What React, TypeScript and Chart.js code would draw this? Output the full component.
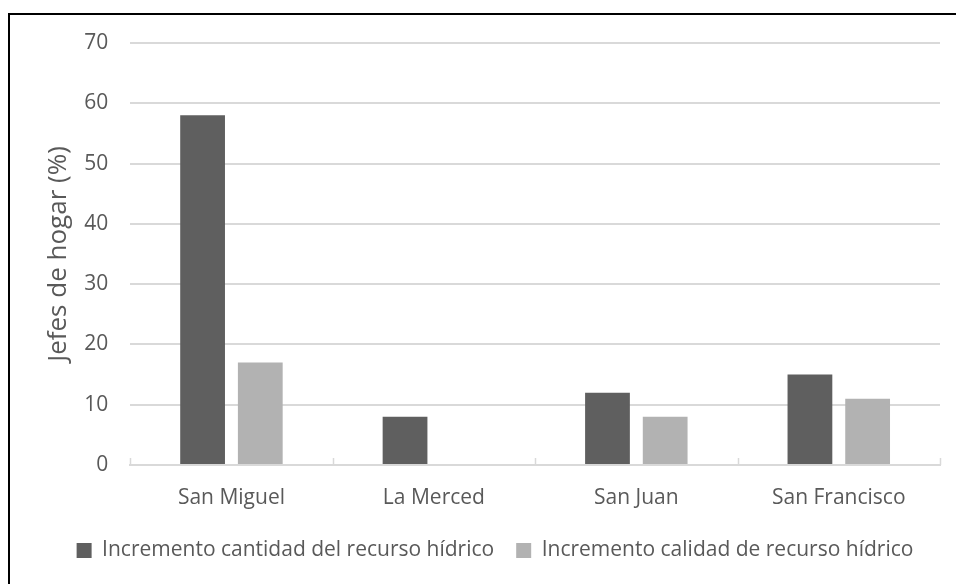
import React, { useEffect, useRef } from "react";
import { Chart, registerables } from "chart.js";
Chart.register(...registerables);

const categories = ["San Miguel", "La Merced", "San Juan", "San Francisco"];
const cantidad = [58, 8, 12, 15];
const calidad = [17, 0, 8, 11];
const seriesNames = ["Incremento cantidad del recurso hídrico", "Incremento calidad de recurso hídrico"];
const yTitle = "Jefes de hogar (%)";
const yMax = 70;
const yStep = 10;

const categoryTicks = {
  id: "categoryTicks",
  afterDatasetsDraw(chart: any) {
    const x = chart.scales.x;
    const ctx = chart.ctx;
    const n = chart.data.labels.length;
    const w = (x.right - x.left) / n;
    ctx.save();
    ctx.strokeStyle = "#d9d9d9";
    ctx.lineWidth = 1.5;
    for (let i = 0; i <= n; i++) {
      const px = Math.round(x.left + i * w) + 0.5;
      ctx.beginPath();
      ctx.moveTo(px, x.top);
      ctx.lineTo(px, x.top - 7);
      ctx.stroke();
    }
    ctx.restore();
  },
};

export default function App() {
  const ref = useRef<HTMLCanvasElement>(null);
  useEffect(() => {
    const font = { family: "'Open Sans', 'Liberation Sans', sans-serif", size: 21 };
    const chart = new Chart(ref.current!, {
      type: "bar",
      data: {
        labels: categories,
        datasets: [
          { label: seriesNames[0], data: cantidad, backgroundColor: "#5f5f5f", categoryPercentage: 0.57, barPercentage: 0.776 },
          { label: seriesNames[1], data: calidad, backgroundColor: "#b2b2b2", categoryPercentage: 0.57, barPercentage: 0.776 },
        ],
      },
      plugins: [categoryTicks],
      options: {
        animation: false,
        responsive: false,
        maintainAspectRatio: false,
        layout: { padding: { top: 43, right: 16, left: 50, bottom: 13 } },
        plugins: {
          tooltip: { enabled: false },
          legend: {
            position: "bottom",
            labels: { color: "#595959", font, boxWidth: 15, boxHeight: 15, padding: 22 },
          },
        },
        scales: {
          x: {
            grid: { display: false, drawTicks: true, tickLength: 13 },
            border: { color: "#d9d9d9", width: 2 },
            ticks: { color: "#595959", font, padding: 7.4 },
          },
          y: {
            min: 0,
            max: yMax,
            ticks: { stepSize: yStep, color: "#595959", font, padding: 22 },
            grid: { color: "#d9d9d9", lineWidth: 2, drawTicks: false },
            border: { display: false },
            title: { display: true, text: yTitle, color: "#595959", font: { ...font, size: 26 }, padding: { top: -6.6, bottom: -12.4 } },
          },
        },
      },
    });
    return () => chart.destroy();
  }, []);
  return (
    <div style={{ position: "fixed", left: 0, top: 0, width: 956, height: 584, background: "#fff" }}>
      <canvas ref={ref} width={956} height={584} style={{ position: "absolute", left: 0, top: 0 }} />
      <div style={{ position: "absolute", left: 8, top: 13, right: 0, bottom: 0, borderLeft: "2px solid #000", borderTop: "2px solid #000" }} />
    </div>
  );
}
